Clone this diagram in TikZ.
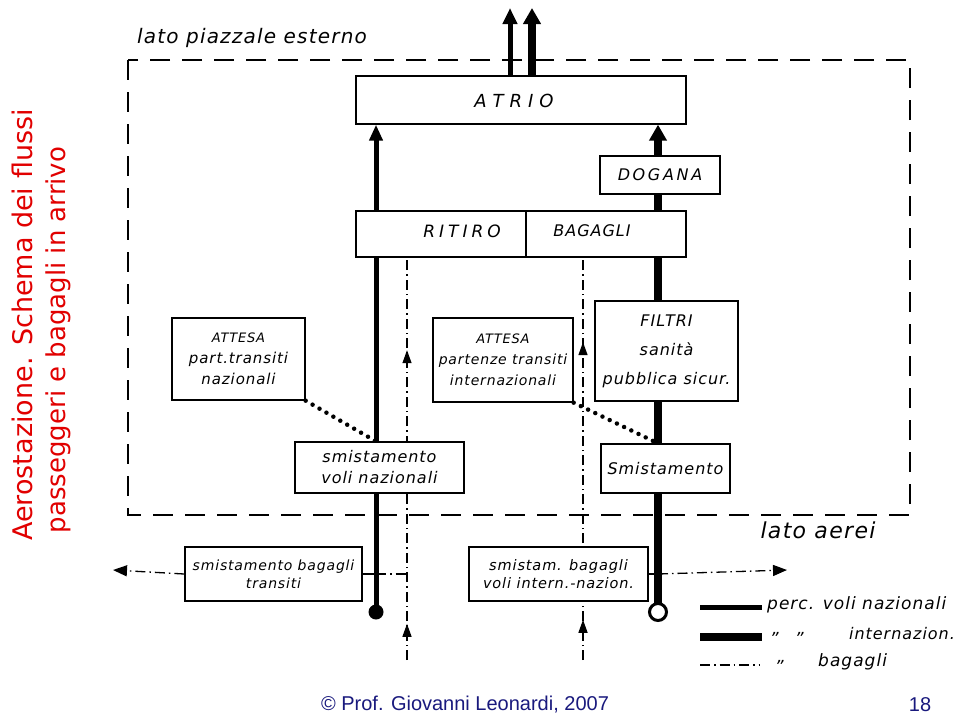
\documentclass[tikz,border=0pt]{standalone}
\usepackage{fontspec}
\setmainfont{Liberation Sans}
\newfontfamily\hand[LetterSpace=6]{DejaVu Sans}
\newfontfamily\titlefont{DejaVu Sans}
\usetikzlibrary{arrows.meta,decorations.markings}
\definecolor{titlered}{RGB}{225,0,0}
\definecolor{footblue}{RGB}{25,25,125}
\begin{document}
\begin{tikzpicture}[x=1pt,y=-1pt,
  box/.style={draw, line width=1.3pt, fill=white, inner sep=0pt, align=center,
    font=\hand\itshape\fontsize{16}{21}\selectfont},
  handtext/.style={inner sep=0pt, font=\hand\itshape\fontsize{17}{21}\selectfont},
  border/.style={line width=1.3pt, dash pattern=on 20pt off 12pt},
  nat/.style={line width=5pt},
  intl/.style={line width=8pt},
  thin/.style={line width=1.3pt},
  bag/.style={line width=1.3pt, dash pattern=on 10pt off 4pt on 1.5pt off 4pt},
  bagmarks/.style 2 args={bag, postaction={decorate, decoration={markings,
     mark=at position #1 with {\arrow{Triangle[length=13pt,width=9pt]}},
     mark=at position #2 with {\arrow{Triangle[length=13pt,width=9pt]}}}}},
  dots/.style={line width=4.5pt, dash pattern=on 0pt off 8pt, line cap=round},
  tip/.style={-{Triangle[length=16pt,width=#1]}}
]
\useasboundingbox (0,0) rectangle (960,718);

% outer dashed border
\draw[border] (128,60) rectangle (910,515);

% key coordinates
\coordinate (nb) at (376,612);
\coordinate (ib) at (658,612);
\coordinate (b1) at (407,660);
\coordinate (b2) at (583,660);
\coordinate (ex1) at (510,8);
\coordinate (ex2) at (532,8);
\coordinate (l1) at (113,570);
\coordinate (r1) at (787,570);

% box positions (drawn later on top of the lines)
\path
  node[box, minimum width=330pt, minimum height=48pt] (atrio) at (521,100) {}
  node[box, minimum width=170pt, minimum height=46pt] (ritiro) at (441,234) {}
  node[box, minimum width=160pt, minimum height=46pt] (bagagli) at (606,234) {};

% exit arrows
\draw[nat, tip=14pt] (atrio.north -| ex1) -- (ex1);
\draw[intl, tip=17pt] (atrio.north -| ex2) -- (ex2);

% passenger flows
\draw[nat, tip=13pt] (nb) -- (nb |- atrio.south);
\draw[intl, tip=17pt] (ib) -- (ib |- atrio.south);

% baggage flows
\draw[bagmarks={0.09}{0.77}] (b1) -- (b1 |- ritiro.south);
\draw[bagmarks={0.10}{0.79}] (b2) -- (b2 |- bagagli.south);

% boxes on top of lines
\node[box, minimum width=330pt, minimum height=48pt] (atrio) at (521,100) {};
\node[box, minimum width=120pt, minimum height=38pt] (dogana) at (660,175)
  {D\,O\,G\,A\,N\,A};
\node[box, minimum width=170pt, minimum height=46pt] (ritiro) at (441,234) {};
\node[box, minimum width=160pt, minimum height=46pt] (bagagli) at (606,234) {};
\node[handtext, font=\hand\itshape\fontsize{18}{20}\selectfont] (atriot) at (514,101)
  {A\hspace{6pt}T\hspace{6pt}R\hspace{6pt}I\hspace{6pt}O};
\node[handtext, font=\hand\itshape\fontsize{17}{20}\selectfont] (ritirot) at (462,231)
  {R\hspace{4pt}I\hspace{4pt}T\hspace{4pt}I\hspace{4pt}R\hspace{4pt}O};
\node[handtext, font=\hand\itshape\fontsize{16}{20}\selectfont] (bagaglit) at (592,231) {BAGAGLI};

\node[box, minimum width=133pt, minimum height=82pt, font=\hand\itshape\fontsize{15}{21}\selectfont] (attn) at (238.5,359)
  {{\fontsize{13}{21}\selectfont ATTESA}\\part.transiti\\nazionali};
\node[box, minimum width=140pt, minimum height=84pt, font=\hand\itshape\fontsize{14}{21}\selectfont] (atti) at (503,360)
  {{\fontsize{13}{21}\selectfont ATTESA}\\partenze transiti\\internazionali};
\node[box, minimum width=143pt, minimum height=100pt, font=\hand\itshape\fontsize{16}{29}\selectfont] (filtri) at (666.5,351)
  {FILTRI\\sanità\\pubblica sicur.};
\node[box, minimum width=169pt, minimum height=51pt] (smvn) at (379.5,467.5)
  {smistamento\\voli nazionali};
\node[box, minimum width=129pt, minimum height=49pt] (smi) at (665.5,468.5)
  {Smistamento};
\node[box, minimum width=177pt, minimum height=54pt, font=\hand\itshape\fontsize{14}{18}\selectfont] (sbt) at (273.5,574)
  {smistamento bagagli\\transiti};
\node[box, minimum width=179pt, minimum height=54pt, font=\hand\itshape\fontsize{14.5}{18}\selectfont] (sbi) at (558.5,574)
  {smistam. bagagli\\voli intern.-nazion.};

% dotted links
\draw[dots] (attn.south east) -- (smvn.north -| nb);
\draw[dots] (atti.south east) -- (smi.north -| ib);

% bottom connections
\draw[thin] (sbt.east) -- (sbt.east -| nb);
\draw[bag] (sbt.east -| nb) -- (sbt.east -| b1);
\draw[bag, -{Triangle[length=14pt,width=11pt]}] (sbt.west) -- (l1);
\draw[thin] (sbi.east) -- (sbi.east -| ib);
\draw[bag, -{Triangle[length=14pt,width=11pt]}] (sbi.east -| ib) -- (r1);

% line ends
\node[circle, fill, minimum size=15pt, inner sep=0pt] (nbc) at (nb) {};
\node[circle, draw, fill=white, line width=3pt, minimum size=17pt, inner sep=0pt] (ibc) at (ib) {};

% labels
\node[handtext, font=\hand\itshape\fontsize{20}{22}\selectfont] (piazzale) at (252,38) {lato piazzale esterno};
\node[handtext, font=\hand\itshape\fontsize{22}{24}\selectfont] (aerei) at (818,530) {lato aerei};

% legend
\coordinate (lg1a) at (700,607); \coordinate (lg1b) at (762,607);
\coordinate (lg2a) at (700,637); \coordinate (lg2b) at (762,637);
\coordinate (lg3a) at (700,665); \coordinate (lg3b) at (760,665);
\draw[nat] (lg1a) -- (lg1b);
\draw[intl] (lg2a) -- (lg2b);
\draw[bag] (lg3a) -- (lg3b);
\node[handtext, anchor=west] (lgt1) at (767,605) {perc. voli nazionali};
\node[handtext, anchor=west] (lgt2q1) at (772,634) {„};
\node[handtext, anchor=west] (lgt2q2) at (797,634) {„};
\node[handtext, anchor=west, font=\hand\itshape\fontsize{16}{21}\selectfont] (lgt2) at (849,634) {internazion.};
\node[handtext, anchor=west] (lgt3q) at (777,662) {„};
\node[handtext, anchor=west] (lgt3) at (818,662) {bagagli};

% title
\node[rotate=90, inner sep=0pt, text=titlered, font=\titlefont\fontsize{27}{30}\selectfont] (t1) at (22,325) {Aerostazione. Schema dei flussi};
\node[rotate=90, inner sep=0pt, text=titlered, font=\titlefont\fontsize{26}{30}\selectfont] (t2) at (58,340) {passeggeri e bagagli in arrivo};

% footer
\node[inner sep=0pt, text=footblue, font=\fontsize{20}{22}\selectfont] (foot) at (465,705) {© Prof. Giovanni Leonardi, 2007};
\node[inner sep=0pt, text=footblue, font=\fontsize{20}{22}\selectfont] (page) at (920,705) {18};
\end{tikzpicture}
\end{document}
